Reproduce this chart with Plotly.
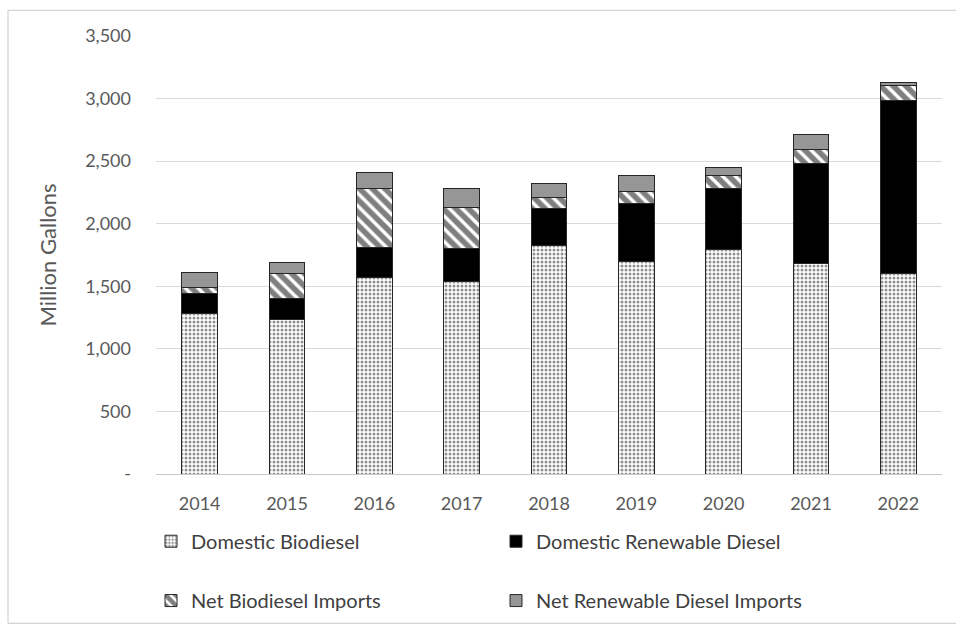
import plotly.graph_objects as go

years = ["2014", "2015", "2016", "2017", "2018", "2019", "2020", "2021", "2022"]
domestic_biodiesel = [1282, 1235, 1572, 1538, 1823, 1696, 1793, 1685, 1604]
domestic_renewable_diesel = [158, 166, 237, 266, 302, 464, 485, 796, 1377]
net_biodiesel_imports = [53, 203, 474, 327, 87, 97, 110, 113, 124]
net_renewable_diesel_imports = [120, 89, 127, 152, 106, 131, 59, 118, 21]

y_ticks = [0, 500, 1000, 1500, 2000, 2500, 3000, 3500]
y_ticktext = ["-", "500", "1,000", "1,500", "2,000", "2,500", "3,000", "3,500"]

W, H = 956, 632
ML, MT = 156, 36
MR = W - 942
MB = H - 479
PW, PH = W - ML - MR, H - MT - MB

FONT = "Lato"
TICK_COLOR = "#595959"
LINE = dict(color="#262626", width=1)


def px_x(p):
    return (p - ML) / PW


def px_y(p):
    return (H - MB - p) / PH


fig = go.Figure()
fig.add_trace(go.Bar(
    x=years, y=domestic_biodiesel, name="Domestic Biodiesel",
    marker=dict(color="white", line=LINE,
                pattern=dict(shape=".", fgcolor="#222222", bgcolor="white",
                             size=4, solidity=0.45)),
    legend="legend"))
fig.add_trace(go.Bar(
    x=years, y=domestic_renewable_diesel, name="Domestic Renewable Diesel",
    marker=dict(color="black", line=LINE), legend="legend2"))
fig.add_trace(go.Bar(
    x=years, y=net_biodiesel_imports, name="Net Biodiesel Imports",
    marker=dict(color="white", line=LINE,
                pattern=dict(shape="\\", fgcolor="black", bgcolor="white",
                             size=9, solidity=0.62)),
    legend="legend3"))
fig.add_trace(go.Bar(
    x=years, y=net_renewable_diesel_imports, name="Net Renewable Diesel Imports",
    marker=dict(color="#969696", line=LINE), legend="legend4"))

legend_common = dict(
    xanchor="left", yanchor="middle",
    font=dict(family=FONT, size=20, color="#404040"),
    bgcolor="rgba(0,0,0,0)", itemwidth=30,
)

col1, col2 = 151, 496
row1, row2 = 547, 607

fig.update_layout(
    width=W, height=H,
    margin=dict(l=ML, r=MR, t=MT, b=MB),
    paper_bgcolor="white", plot_bgcolor="white",
    barmode="stack", bargap=0.59,
    font=dict(family=FONT, color=TICK_COLOR),
    showlegend=True,
    legend=dict(x=px_x(col1), y=px_y(row1), **legend_common),
    legend2=dict(x=px_x(col2), y=px_y(row1), **legend_common),
    legend3=dict(x=px_x(col1), y=px_y(row2), **legend_common),
    legend4=dict(x=px_x(col2), y=px_y(row2), **legend_common),
    xaxis=dict(
        showgrid=False, showline=True, linecolor="#c8c8c8", linewidth=1,
        ticks="", tickfont=dict(family=FONT, size=18, color=TICK_COLOR),
        ticklabelstandoff=13,
    ),
    yaxis=dict(
        range=[0, 3500], tickvals=y_ticks, ticktext=y_ticktext,
        showgrid=True, gridcolor="#d9d9d9", gridwidth=1,
        zeroline=False, showline=False, ticks="",
        tickfont=dict(family=FONT, size=18, color=TICK_COLOR),
        ticklabelstandoff=24,
        title=dict(text="Million Gallons", font=dict(family=FONT, size=22, color=TICK_COLOR),
                   standoff=22),
    ),
    shapes=[dict(type="rect", xref="paper", yref="paper",
                 x0=px_x(8), x1=px_x(1000), y0=px_y(630), y1=px_y(10),
                 line=dict(color="#c8c8c8", width=1), fillcolor="rgba(0,0,0,0)",
                 layer="below")],
)

fig.write_html(
    "out.html",
    config={"displayModeBar": False},
    post_script="document.body.style.margin='0';"
                "document.documentElement.style.overflow='hidden';"
                "document.body.style.overflow='hidden';",
)
